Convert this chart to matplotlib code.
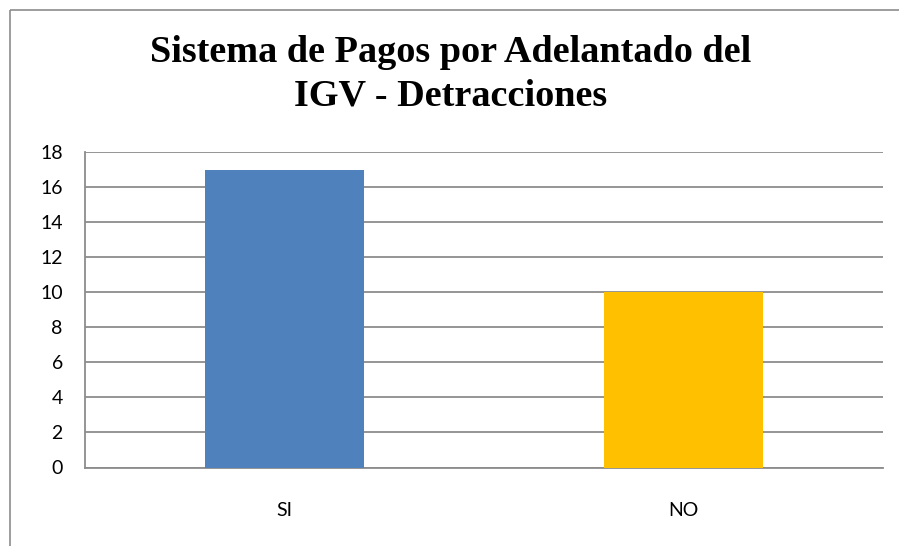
import matplotlib
matplotlib.use("Agg")
import matplotlib.pyplot as plt
from matplotlib.lines import Line2D

categories = ["SI", "NO"]
values = [17, 10]
colors = ["#4F81BD", "#FFC000"]
yticks = [0, 2, 4, 6, 8, 10, 12, 14, 16, 18]
title = "Sistema de Pagos por Adelantado del\nIGV - Detracciones"

W, H = 900, 546
fig = plt.figure(figsize=(9, 5.46), dpi=100)
fig.patch.set_facecolor("white")

# outer chart border (top and left edges visible)
bx, by = 9.5 / W, 1 - 9.5 / H
fig.add_artist(Line2D([bx, bx], [0, by], transform=fig.transFigure, color="#8c8c8c",
                      linewidth=1.2, solid_capstyle="butt"))
fig.add_artist(Line2D([bx, 899 / W], [by, by], transform=fig.transFigure, color="#8c8c8c",
                      linewidth=1.2, solid_capstyle="butt"))

ax = fig.add_axes([85 / W, 1 - 467.5 / H, (883 - 85) / W, (467.5 - 152) / H])
x = list(range(len(categories)))
ax.bar(x, values, width=0.4, color=colors, zorder=3)
ax.set_xlim(-0.5, len(categories) - 0.5)
ax.set_ylim(0, 18)
ax.set_yticks(yticks)
ax.set_xticks(x)
ax.set_xticklabels(categories)
ax.yaxis.grid(True, color="#8c8c8c", linewidth=1.3, zorder=0)
ax.set_axisbelow(True)
for s in ["top", "right"]:
    ax.spines[s].set_visible(False)
for s in ["left", "bottom"]:
    ax.spines[s].set_color("#8c8c8c")
    ax.spines[s].set_linewidth(1.3)
ax.tick_params(axis="both", length=0, labelsize=14)
ax.tick_params(axis="y", pad=16)
ax.tick_params(axis="x", pad=25)
for lbl in ax.get_xticklabels() + ax.get_yticklabels():
    lbl.set_fontfamily("Lato")
    lbl.set_color("black")

fig.text(451 / W, 1 - 74 / H, title, ha="center", va="center", fontsize=27.5,
         fontweight="bold", family="Liberation Serif", linespacing=1.32)

fig.savefig("out.png", dpi=100)
